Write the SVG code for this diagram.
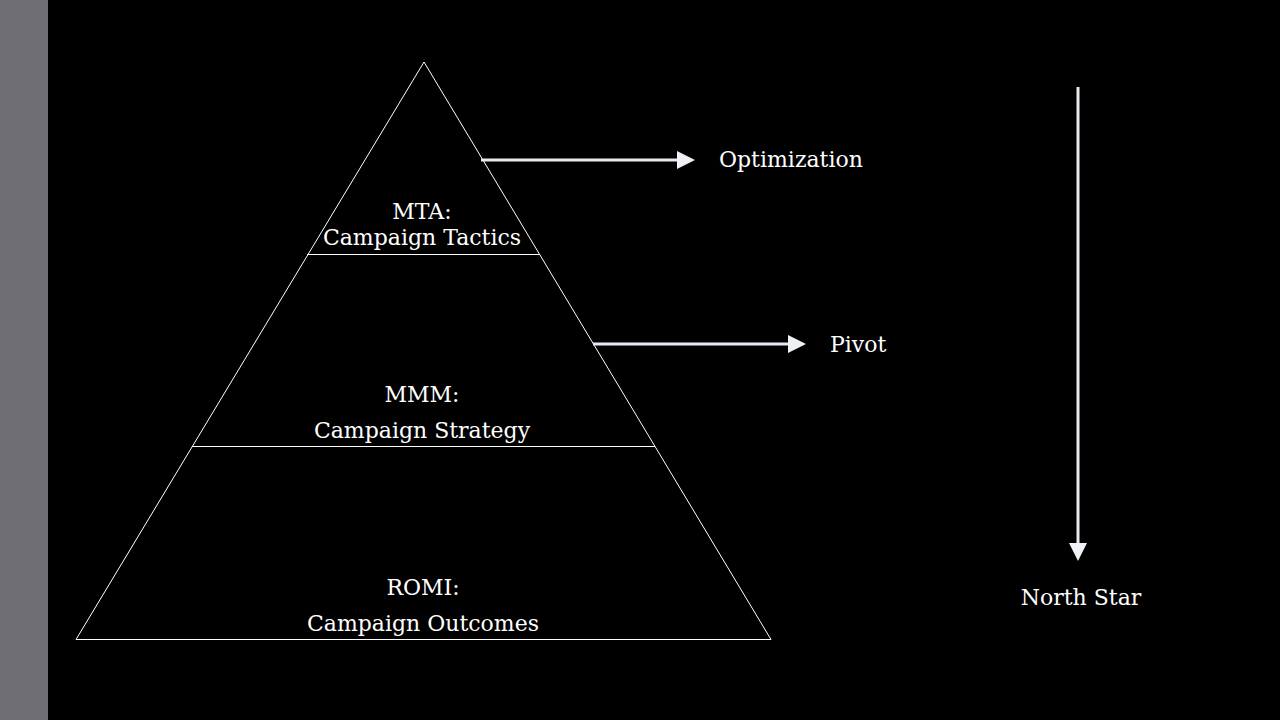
<svg xmlns="http://www.w3.org/2000/svg" width="1280" height="720" viewBox="0 0 1280 720">
<defs>
<marker id="ah" markerWidth="6" markerHeight="6" refX="0" refY="3" orient="auto" markerUnits="strokeWidth">
<path d="M0,0 L6,3 L0,6 Z" fill="#eef1f5"/>
</marker>
<style>
.t{font-family:"DejaVu Serif","Liberation Serif",serif;font-size:22px;fill:#ffffff;text-anchor:middle}
.l{font-family:"DejaVu Serif","Liberation Serif",serif;font-size:22px;fill:#ffffff}
.edge{stroke:#ffffff;stroke-width:1;fill:none}
.arr{stroke:#e6eaf0;stroke-width:3;fill:none;marker-end:url(#ah)}
</style>
</defs>
<rect x="0" y="0" width="1280" height="720" fill="#000000"/>
<rect x="0" y="0" width="48" height="720" fill="#6e6e73"/>
<g id="pyramid">
<polygon class="edge" points="424,62 76,639.5 771,639.5"/>
</g>
<g id="tier-mta">
<line class="edge" x1="307" y1="254.5" x2="540" y2="254.5"/>
<text class="t" x="422" y="219">MTA:</text>
<text class="t" x="422" y="245">Campaign Tactics</text>
</g>
<g id="tier-mmm">
<line class="edge" x1="192" y1="446.5" x2="655" y2="446.5"/>
<text class="t" x="422" y="402">MMM:</text>
<text class="t" x="422" y="438">Campaign Strategy</text>
</g>
<g id="tier-romi">
<text class="t" x="423" y="595">ROMI:</text>
<text class="t" x="423" y="631">Campaign Outcomes</text>
</g>
<g id="connectors">
<line class="arr" x1="481" y1="160" x2="677" y2="160"/>
<line class="arr" x1="593" y1="344" x2="788" y2="344"/>
<line class="arr" x1="1078" y1="87" x2="1078" y2="543"/>
</g>
<g id="optimization"><text class="l" x="719" y="167">Optimization</text></g>
<g id="pivot"><text class="l" x="830" y="352">Pivot</text></g>
<g id="north-star"><text class="t" x="1081" y="605">North Star</text></g>
</svg>
